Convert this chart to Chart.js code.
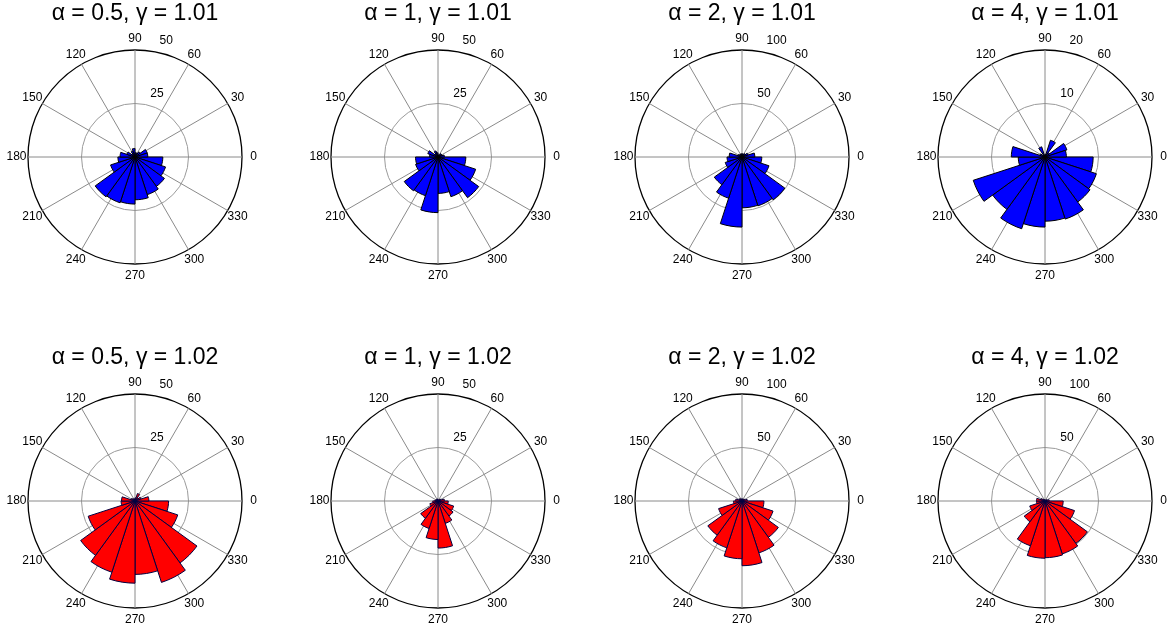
<!DOCTYPE html>
<html>
<head>
<meta charset="utf-8">
<script src="https://cdn.jsdelivr.net/npm/chart.js@4.4.0/dist/chart.umd.min.js"></script>
<style>
  html, body { margin: 0; padding: 0; background: #fff; width: 1171px; height: 632px; overflow: hidden; }
  canvas { position: absolute; }
</style>
</head>
<body>
<canvas id="r0" width="300" height="290" style="left:-15px;top:0"></canvas>
<canvas id="r1" width="300" height="290" style="left:288px;top:0"></canvas>
<canvas id="r2" width="300" height="290" style="left:592px;top:0"></canvas>
<canvas id="r3" width="300" height="290" style="left:895px;top:0"></canvas>
<canvas id="r4" width="300" height="290" style="left:-15px;top:344px"></canvas>
<canvas id="r5" width="300" height="290" style="left:288px;top:344px"></canvas>
<canvas id="r6" width="300" height="290" style="left:592px;top:344px"></canvas>
<canvas id="r7" width="300" height="290" style="left:895px;top:344px"></canvas>
<script>
// rose histograms, 20 bins of 18 deg, counted anticlockwise from 0 deg (east)
const binStarts = [0, 18, 36, 54, 72, 90, 108, 126, 144, 162, 180, 198, 216, 234, 252, 270, 288, 306, 324, 342];
const angleTicks = [0, 30, 60, 90, 120, 150, 180, 210, 240, 270, 300, 330];

const titles = [
  'α = 0.5, γ = 1.01', 'α = 1, γ = 1.01', 'α = 2, γ = 1.01', 'α = 4, γ = 1.01',
  'α = 0.5, γ = 1.02', 'α = 1, γ = 1.02', 'α = 2, γ = 1.02', 'α = 4, γ = 1.02'
];
const radialMax = [50, 50, 100, 20, 50, 50, 100, 100];

const bins_a05_g101 = [6, 6, 3, 2, 2, 4, 3, 2, 4, 7, 8, 12, 23, 22.5, 22, 20, 18.5, 17, 15, 13];
const bins_a1_g101  = [3, 2, 2, 1, 1, 2, 3, 2, 5, 4, 10.5, 11, 19.5, 19, 26, 17, 19.5, 23.5, 18.5, 13];
const bins_a2_g101  = [12, 6, 4, 3, 3, 3, 3, 3, 4, 12, 14, 16.5, 32, 40.5, 65.5, 47.5, 48, 49.5, 26.5, 18.5];
const bins_a4_g101  = [4, 4.3, 1, 3.3, 0.5, 0.3, 2, 0.5, 1, 6.3, 5, 14.1, 12.1, 14.1, 13.1, 12, 12.2, 10.4, 10.1, 9];
const bins_a05_g102 = [6.5, 3, 2, 3.7, 1.5, 1, 1, 1.5, 2, 6.3, 6.5, 23, 31.4, 35, 38.4, 34.3, 40, 35.8, 21, 15.7];
const bins_a1_g102  = [3, 1.5, 1, 0.5, 0.5, 1, 0.5, 1, 1, 1.5, 2.5, 4, 10, 13.5, 18, 22, 11, 8.7, 7.7, 4.8];
const bins_a2_g102  = [5, 3, 2, 2, 2, 2, 2, 3, 3, 6, 8, 23, 39.5, 46, 54, 60.5, 51, 42, 30.5, 20.5];
const bins_a4_g102  = [4, 2, 1.5, 1, 1, 1, 1.5, 2, 4, 8, 8, 15, 24, 44, 53.5, 53, 52, 49, 29, 17];

const allBins = [bins_a05_g101, bins_a1_g101, bins_a2_g101, bins_a4_g101,
                 bins_a05_g102, bins_a1_g102, bins_a2_g102, bins_a4_g102];

const FONT = '"Liberation Sans", Arial, Helvetica, sans-serif';

/**
 * Spokes every 30 deg, angle labels and radial tick labels (MATLAB polar look)
 */
const roseDecor = {
  id: 'roseDecor',
  beforeDatasetsDraw(chart) {
    const s = chart.scales.r;
    const ctx = chart.ctx;
    const cx = s.xCenter, cy = s.yCenter, R = s.drawingArea;
    ctx.save();
    ctx.strokeStyle = '#8a8a8a';
    ctx.lineWidth = 1;
    angleTicks.forEach(a => {
      const t = a * Math.PI / 180;
      ctx.beginPath();
      ctx.moveTo(cx, cy);
      ctx.lineTo(cx + R * Math.cos(t), cy - R * Math.sin(t));
      ctx.stroke();
    });
    ctx.fillStyle = '#000';
    ctx.font = '12px ' + FONT;
    ctx.textAlign = 'center';
    ctx.textBaseline = 'middle';
    angleTicks.forEach(a => {
      const t = a * Math.PI / 180;
      ctx.fillText(String(a), cx + (R + 11.5) * Math.cos(t), cy - (R + 11.5) * Math.sin(t));
    });
    ctx.textAlign = 'left';
    const t80 = 80 * Math.PI / 180;
    s.ticks.forEach(tk => {
      if (tk.value <= 0) return;
      const d = s.getDistanceFromCenterForValue(tk.value);
      ctx.fillText(String(tk.value), cx + d * Math.cos(t80) + 6, cy - d * Math.sin(t80) - 10.5);
    });
    ctx.restore();
  }
};

function makeRose(id, title, bins, rMax, fill, edge) {
  // polarArea runs clockwise from its start angle, so feed the bins in reverse
  const data = bins.slice().reverse();
  const labels = binStarts.slice().reverse();
  return new Chart(document.getElementById(id), {
    type: 'polarArea',
    data: {
      labels,
      datasets: [{
        data,
        backgroundColor: fill,
        borderColor: edge,
        borderWidth: 1
      }]
    },
    options: {
      responsive: false,
      animation: false,
      layout: { padding: { left: 43, right: 43, top: 0, bottom: 26 } },
      plugins: {
        legend: { display: false },
        tooltip: { enabled: false },
        title: {
          display: true,
          text: title,
          color: '#000',
          font: { family: FONT, size: 23, weight: 'normal', lineHeight: 1.2 },
          padding: { top: 0, bottom: 22.4 }
        }
      },
      scales: {
        r: {
          min: 0,
          max: rMax,
          startAngle: 90,
          ticks: { display: false, stepSize: rMax / 2 },
          grid: {
            circular: true,
            color: c => (c.tick && c.tick.value >= rMax) ? '#000' : '#9a9a9a',
            lineWidth: c => (c.tick && c.tick.value >= rMax) ? 1.3 : 1
          },
          angleLines: { display: false },
          pointLabels: { display: false }
        }
      }
    },
    plugins: [roseDecor]
  });
}

allBins.forEach((bins, i) => {
  const red = i >= 4;
  makeRose('r' + i, titles[i], bins, radialMax[i], red ? '#ff0000' : '#0000ff', red ? '#000040' : '#000000');
});
</script>
</body>
</html>
